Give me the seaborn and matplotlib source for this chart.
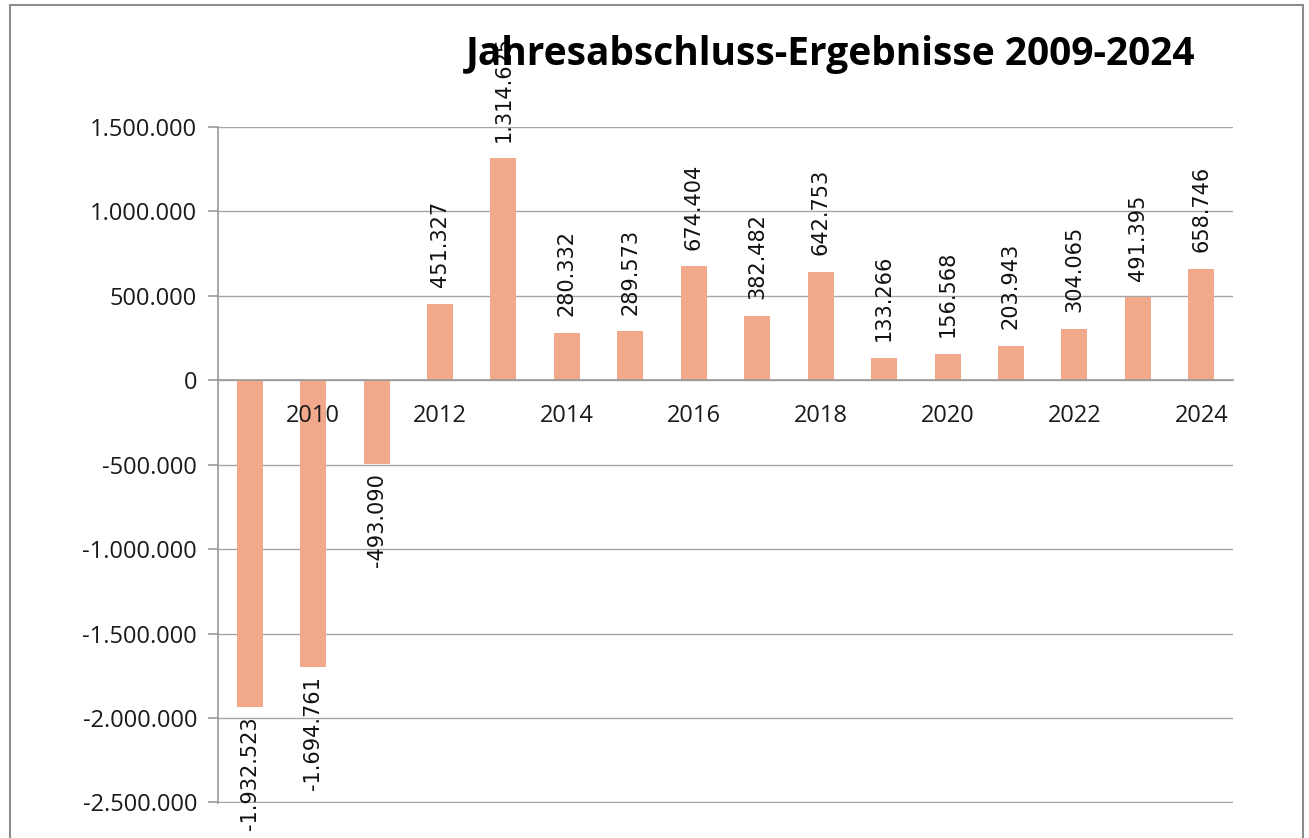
import matplotlib
matplotlib.use("Agg")
import matplotlib.pyplot as plt
import matplotlib.ticker as mticker
from matplotlib.patches import Rectangle
import numpy as np
import pandas as pd
import seaborn as sns

# Jahresabschluss-Ergebnisse je Jahr
jahre = [str(j) for j in range(2009, 2025)]
ergebnisse = [-1932523, -1694761, -493090, 451327, 1314625, 280332, 289573,
              674404, 382482, 642753, 133266, 156568, 203943, 304065,
              491395, 658746]
y_ticks = [-2500000, -2000000, -1500000, -1000000, -500000, 0,
           500000, 1000000, 1500000]

df = pd.DataFrame({"Jahr": jahre, "Ergebnis": ergebnisse})


def de_fmt(v):
    return f"{v:,.0f}".replace(",", ".")


sns.set_style("white")
plt.rcParams["font.family"] = ["Open Sans", "DejaVu Sans"]

fig = plt.figure(figsize=(13.09, 8.38), dpi=100)
ax = fig.add_axes([218 / 1309, 1 - 803 / 838, (1233 - 218) / 1309, (803 - 127) / 838])

sns.barplot(data=df, x="Jahr", y="Ergebnis", order=jahre, color="#F2A98B",
            saturation=1, width=0.41, linewidth=0, ax=ax, zorder=2)

ax.set_xlim(-0.5, len(jahre) - 0.5)
ax.set_ylim(-2503000, 1500000)
ax.set_yticks(y_ticks)
ax.yaxis.set_major_formatter(mticker.FuncFormatter(lambda v, p: de_fmt(v)))
ax.yaxis.grid(True, color="#a6a6a6", lw=1)
ax.set_axisbelow(True)
ax.set_xlabel("")
ax.set_ylabel("")

# Kategorieachse liegt auf der Nulllinie
ax.spines["bottom"].set_position(("data", 0))
for s in ["top", "right"]:
    ax.spines[s].set_visible(False)
for s in ["left", "bottom"]:
    ax.spines[s].set_color("#999999")
    ax.spines[s].set_linewidth(1.2)
    ax.spines[s].set_zorder(2.5)

ax.set_xticks(range(len(jahre)))
ax.set_xticklabels([j if i % 2 == 1 else "" for i, j in enumerate(jahre)])
ax.xaxis.set_minor_locator(mticker.FixedLocator(np.arange(-0.5, len(jahre), 1)))
ax.xaxis.set_zorder(3)
ax.tick_params(axis="x", which="major", length=0, pad=17, labelsize=17, colors="#1a1a1a")
ax.tick_params(axis="x", which="minor", length=7, width=1.2, color="#999999", direction="out")
ax.tick_params(axis="y", which="major", left=True, length=7, width=1.2, color="#999999",
               pad=8, labelsize=17, labelcolor="#1a1a1a")

# Datenbeschriftungen
for i, v in enumerate(ergebnisse):
    if v >= 0:
        ax.annotate(de_fmt(v), (i, v), xytext=(0, 12), textcoords="offset points",
                    rotation=90, ha="center", va="bottom", fontsize=15,
                    family="DejaVu Sans", color="#111111", zorder=4)
    else:
        ax.annotate(de_fmt(v), (i, v), xytext=(0, -7), textcoords="offset points",
                    rotation=90, ha="center", va="top", fontsize=15,
                    family="DejaVu Sans", color="#111111", zorder=4,
                    annotation_clip=False)

fig.text(831 / 1309, 1 - 54 / 838, "Jahresabschluss-Ergebnisse 2009-2024",
         ha="center", va="center", fontsize=28, fontweight="bold",
         color="black", zorder=10)

fig.patches.append(Rectangle((10 / 1309, -0.01), (1303 - 10) / 1309, 1 - 5 / 838 + 0.01,
                             transform=fig.transFigure, fill=False,
                             edgecolor="#8c8c8c", lw=1.5))

fig.savefig("out.png", dpi=100)
